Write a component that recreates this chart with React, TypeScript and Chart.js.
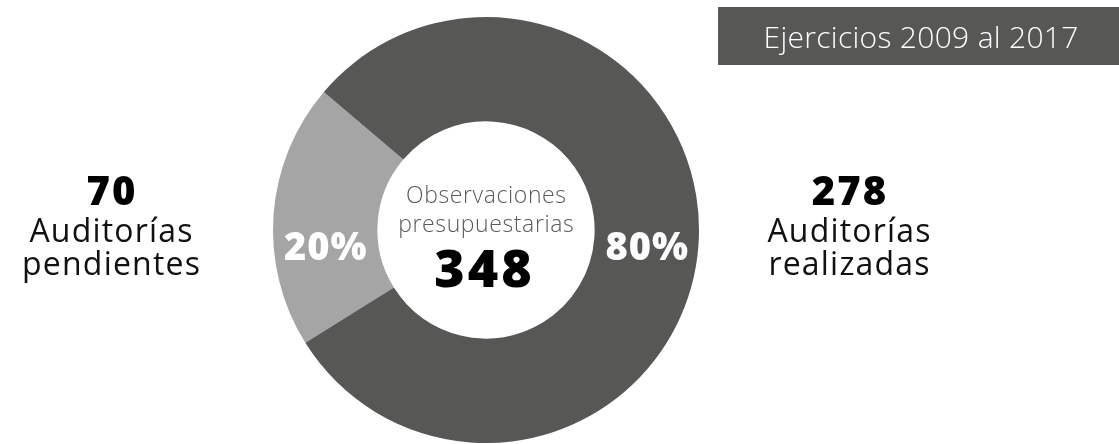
import React, { useEffect, useRef } from "react";
import { Chart, registerables } from "chart.js";

Chart.register(...registerables);

const categories = ["Auditorías pendientes", "Auditorías realizadas"];
const values = [70, 278];
const sideLines = [
  ["Auditorías", "pendientes"],
  ["Auditorías", "realizadas"],
];
const colors = ["#a5a5a5", "#575756"];
const centerLines = ["Observaciones", "presupuestarias"];
const titleText = "Ejercicios 2009 al 2017";

const FONT = "'Open Sans', 'DejaVu Sans', sans-serif";

function txt(ctx: any, s: string, x: number, y: number, font: string, spacing: number) {
  ctx.font = font;
  ctx.letterSpacing = `${spacing}px`;
  ctx.fillText(s, x + spacing / 2, y);
}

const overlayPlugin = {
  id: "overlay",
  afterDraw(chart: any) {
    const ctx: any = chart.ctx;
    const meta = chart.getDatasetMeta(0);
    const total = values.reduce((a, b) => a + b, 0);
    ctx.save();
    ctx.textAlign = "center";
    ctx.textBaseline = "alphabetic";

    // percentages inside ring
    meta.data.forEach((arc: any, i: number) => {
      const p = arc.getProps(["x", "y", "startAngle", "endAngle", "innerRadius", "outerRadius"], true);
      const mid = (p.startAngle + p.endAngle) / 2;
      const midR = (p.innerRadius + p.outerRadius) / 2;
      const side = Math.cos(mid) >= 0 ? 1 : -1;
      const pct = Math.round((values[i] / total) * 100);
      ctx.fillStyle = "#ffffff";
      txt(ctx, `${pct}%`, p.x + side * midR, p.y + 30, `800 38px ${FONT}`, 1);
    });

    // center text
    const a0 = meta.data[0].getProps(["x", "y"], true);
    ctx.fillStyle = "#5a5a5a";
    txt(ctx, centerLines[0], a0.x, 203, `300 23px ${FONT}`, 0.6);
    txt(ctx, centerLines[1], a0.x, 232, `300 23px ${FONT}`, 0.6);
    ctx.fillStyle = "#000000";
    txt(ctx, String(total), a0.x - 3, 287, `800 52px ${FONT}`, 3);

    // side labels
    const sideX = [111, 849];
    values.forEach((v, i) => {
      ctx.fillStyle = "#000000";
      txt(ctx, String(v), sideX[i], 205, `800 40px ${FONT}`, 2);
      ctx.fillStyle = "#111111";
      txt(ctx, sideLines[i][0], sideX[i], 242, `500 32px ${FONT}`, 1.2);
      txt(ctx, sideLines[i][1], sideX[i], 275, `500 32px ${FONT}`, 1.2);
    });

    // title box
    ctx.fillStyle = "#575756";
    ctx.fillRect(718, 7, 401, 58);
    ctx.fillStyle = "#ffffff";
    txt(ctx, titleText, 921, 48, `300 30px ${FONT}`, 0.3);
    ctx.restore();
  },
};

export default function App() {
  const ref = useRef<HTMLCanvasElement | null>(null);
  useEffect(() => {
    if (!ref.current) return;
    const chart = new Chart(ref.current, {
      type: "doughnut",
      data: {
        labels: categories,
        datasets: [
          {
            data: values,
            backgroundColor: colors,
            borderWidth: 0,
          },
        ],
      },
      options: {
        animation: false,
        responsive: true,
        maintainAspectRatio: false,
        rotation: 238,
        cutout: "51%",
        layout: { padding: { left: 273, right: 420, top: 17, bottom: 1 } },
        plugins: {
          legend: { display: false },
          tooltip: { enabled: false },
        },
      },
      plugins: [overlayPlugin],
    });
    return () => chart.destroy();
  }, []);
  return (
    <div style={{ position: "fixed", left: 0, top: 0, width: 1119, height: 444, background: "#fff" }}>
      <canvas ref={ref} />
    </div>
  );
}
